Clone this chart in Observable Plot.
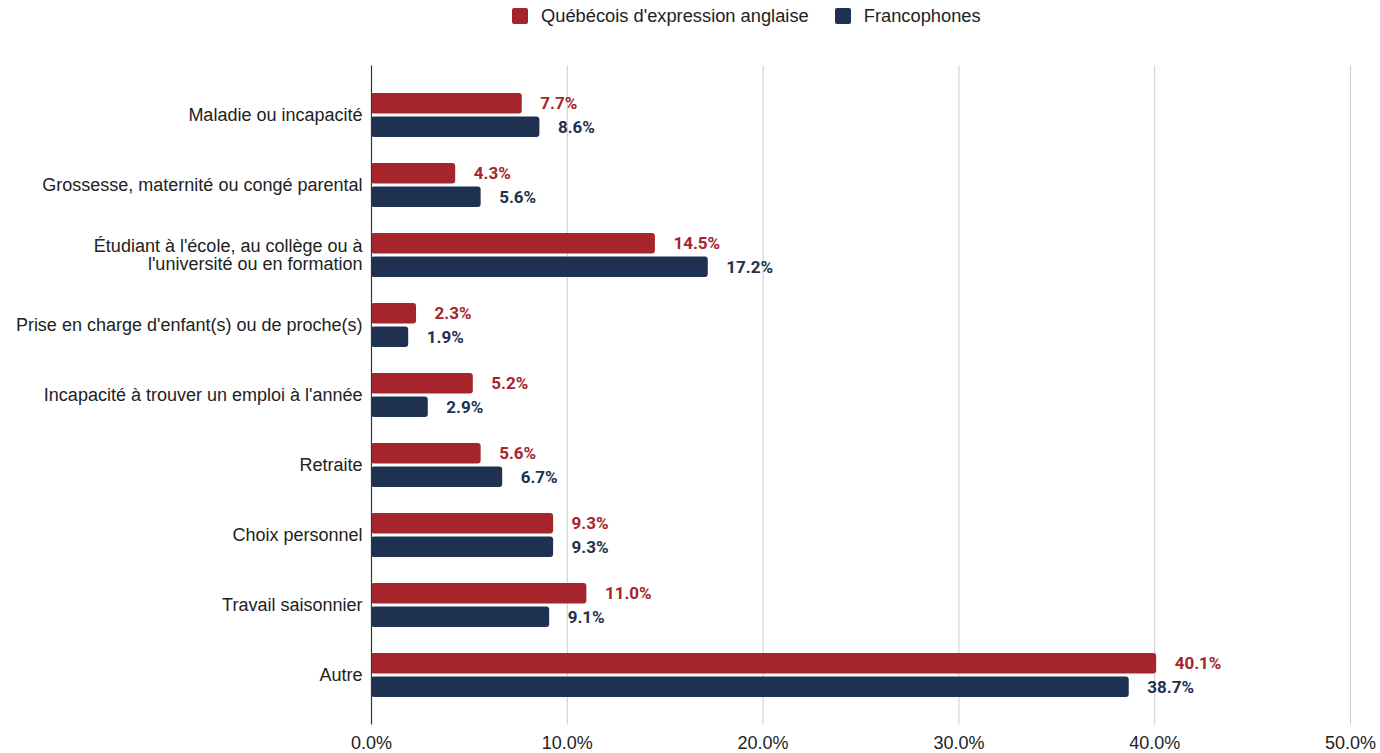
<!DOCTYPE html>
<html>
<head>
<meta charset="utf-8">
<script src="https://cdn.jsdelivr.net/npm/d3@7"></script>
<script src="https://cdn.jsdelivr.net/npm/@observablehq/plot@0.6"></script>
<style>
  body { margin: 0; background: #fff; font-family: "Liberation Sans", Arial, sans-serif; }
  #legend { height: 36px; display: flex; align-items: center; padding-left: 512px; font-size: 18.3px; color: #222; box-sizing: border-box; padding-bottom: 4px; }
  .item { display: flex; align-items: center; margin-right: 26px; }
  .sw { width: 16px; height: 16px; border-radius: 2px; margin-right: 13px; }
</style>
</head>
<body>
<div id="legend"></div>
<div id="chart"></div>
<script>
const categories = [
  "Maladie ou incapacité",
  "Grossesse, maternité ou congé parental",
  "Étudiant à l'école, au collège ou à\nl'université ou en formation",
  "Prise en charge d'enfant(s) ou de proche(s)",
  "Incapacité à trouver un emploi à l'année",
  "Retraite",
  "Choix personnel",
  "Travail saisonnier",
  "Autre"
];
const seriesNames = ["Québécois d'expression anglaise", "Francophones"];
const anglo = [7.7, 4.3, 14.5, 2.3, 5.2, 5.6, 9.3, 11.0, 40.1];
const franco = [8.6, 5.6, 17.2, 1.9, 2.9, 6.7, 9.3, 9.1, 38.7];
const xTicks = [0, 10, 20, 30, 40, 50];
const colors = ["#A6242C", "#1F3150"];

const dataA = categories.map((c, i) => ({category: c, value: anglo[i]}));
const dataF = categories.map((c, i) => ({category: c, value: franco[i]}));

const legend = document.getElementById("legend");
seriesNames.forEach((s, i) => {
  const it = document.createElement("div");
  it.className = "item";
  it.innerHTML = `<div class="sw" style="background:${colors[i]}"></div><span>${s}</span>`;
  legend.appendChild(it);
});

const bw = 44, barH = 20.5;
const fmt = d => d.toFixed(1) + "%";
const labelFont = {fontFamily: "Roboto, 'Liberation Sans', sans-serif", fontWeight: "bold", fontSize: 17};

const plot = Plot.plot({
  width: 1380,
  height: 717,
  marginLeft: 371,
  marginRight: 30,
  marginTop: 29.5,
  marginBottom: 28.5,
  style: {fontFamily: "'Liberation Sans', Arial, sans-serif", fontSize: "18px", color: "#222", background: "#fff"},
  x: {domain: [0, 50]},
  y: {domain: categories, paddingInner: 0.377, paddingOuter: 0.347},
  marks: [
    Plot.ruleX(xTicks.slice(1), {stroke: "#cccccc", strokeWidth: 1}),
    Plot.barX(dataA, {x: "value", y: "category", fill: colors[0], insetBottom: bw - barH, rx: 3}),
    Plot.barX(dataF, {x: "value", y: "category", fill: colors[1], insetTop: bw - barH, rx: 3}),
    Plot.ruleX([0], {stroke: "#333", strokeWidth: 1.2}),
    Plot.text(dataA, {x: "value", y: "category", text: d => fmt(d.value), textAnchor: "start", dx: 18, dy: -11.75, fill: colors[0], ...labelFont}),
    Plot.text(dataF, {x: "value", y: "category", text: d => fmt(d.value), textAnchor: "start", dx: 18, dy: 11.75, fill: colors[1], ...labelFont}),
    Plot.axisY({tickSize: 0, tickPadding: 9, label: null, fontSize: 18}),
    Plot.axisX({ticks: xTicks, tickFormat: fmt, tickSize: 0, tickPadding: 11, label: null, fontSize: 18})
  ]
});
document.getElementById("chart").appendChild(plot);
</script>
</body>
</html>
